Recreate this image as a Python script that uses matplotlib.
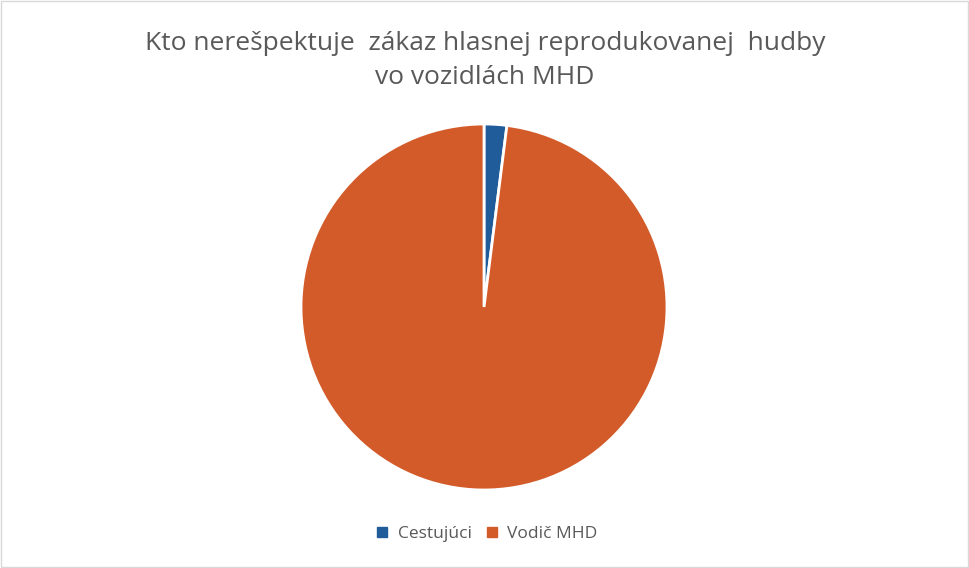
import matplotlib.pyplot as plt
from matplotlib.lines import Line2D

labels = ["Cestujúci", "Vodič MHD"]
values = [2, 98]
colors = ["#1F5C99", "#D35B29"]

plt.rcParams['font.family'] = ['Open Sans', 'DejaVu Sans']

fig = plt.figure(figsize=(9.7, 5.68), dpi=100)
fig.patch.set_facecolor("white")

# pie centre ~ (484, 307) px, radius ~182 px
cx, cy, r = 484, 307, 183
ax = fig.add_axes([(cx - r) / 970, (568 - cy - r) / 568, 2 * r / 970, 2 * r / 568])
ax.pie(values, colors=colors, startangle=90, counterclock=False, radius=1,
       wedgeprops=dict(edgecolor="white", linewidth=2))
ax.set_xlim(-1, 1)
ax.set_ylim(-1, 1)
ax.set_aspect("equal")

fig.text(0.5, 1 - 44 / 568, "Kto nerešpektuje  zákaz hlasnej reprodukovanej  hudby",
         ha="center", va="center", fontsize=19, color="#595959")
fig.text(0.5, 1 - 77 / 568, "vo vozidlách MHD",
         ha="center", va="center", fontsize=19, color="#595959")

handles = [Line2D([], [], marker="s", linestyle="", markersize=7,
                  markerfacecolor=c, markeredgecolor=c) for c in colors]
fig.legend(handles, labels, loc="center", bbox_to_anchor=(0.496, 1 - 534 / 568),
           ncol=2, frameon=False, fontsize=12.5, handletextpad=-0.1,
           columnspacing=0.17, labelcolor="#595959")

# light frame around the chart area
fig.add_artist(plt.Rectangle((0.001, 0.002), 0.997, 0.996, transform=fig.transFigure,
                             fill=False, edgecolor="#D9D9D9", linewidth=1))

fig.savefig("out.png", dpi=100)
